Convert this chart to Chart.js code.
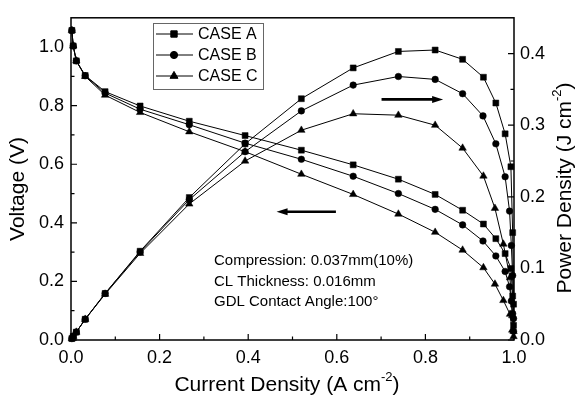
<!DOCTYPE html>
<html>
<head>
<meta charset="utf-8">
<script src="https://cdn.jsdelivr.net/npm/chart.js@4.4.1/dist/chart.umd.min.js"></script>
<style>
html, body { margin: 0; padding: 0; background: #fff; }
canvas { display: block; }
</style>
</head>
<body>
<canvas id="polChart" width="575" height="397"></canvas>
<script>
const caseNames = ['CASE A', 'CASE B', 'CASE C'];
const markerStyles = ['rect', 'circle', 'triangle'];
const markerSizes = [4.2, 3.3, 4.3];

const currentA = [0.002, 0.005, 0.012, 0.032, 0.077, 0.156, 0.267, 0.393, 0.520, 0.637, 0.739, 0.822, 0.884, 0.931, 0.959, 0.980, 0.993, 0.997, 0.999];
const voltageA = [1.057, 1.004, 0.953, 0.903, 0.848, 0.799, 0.747, 0.698, 0.648, 0.598, 0.549, 0.497, 0.443, 0.396, 0.346, 0.295, 0.244, 0.150, 0.050];
const powerA   = [0.002, 0.005, 0.011, 0.029, 0.065, 0.124, 0.199, 0.274, 0.337, 0.380, 0.403, 0.405, 0.392, 0.367, 0.331, 0.288, 0.242, 0.150, 0.050];

const currentB = [0.002, 0.005, 0.012, 0.032, 0.077, 0.156, 0.267, 0.393, 0.520, 0.637, 0.739, 0.822, 0.884, 0.930, 0.959, 0.980, 0.990, 0.994, 0.997, 0.999];
const voltageB = [1.057, 1.004, 0.953, 0.902, 0.843, 0.788, 0.735, 0.672, 0.617, 0.559, 0.500, 0.446, 0.393, 0.338, 0.287, 0.234, 0.182, 0.133, 0.090, 0.030];
const powerB   = [0.002, 0.005, 0.011, 0.029, 0.065, 0.123, 0.196, 0.263, 0.320, 0.356, 0.368, 0.364, 0.344, 0.313, 0.274, 0.228, 0.180, 0.132, 0.090, 0.030];

const currentC = [0.002, 0.005, 0.012, 0.032, 0.077, 0.156, 0.267, 0.393, 0.520, 0.637, 0.739, 0.822, 0.884, 0.931, 0.957, 0.976, 0.991, 0.996, 0.999];
const voltageC = [1.057, 1.004, 0.953, 0.900, 0.836, 0.777, 0.711, 0.643, 0.566, 0.497, 0.430, 0.368, 0.307, 0.247, 0.191, 0.135, 0.088, 0.034, 0.012];
const powerC   = [0.002, 0.005, 0.011, 0.029, 0.064, 0.121, 0.190, 0.250, 0.293, 0.316, 0.314, 0.300, 0.268, 0.229, 0.184, 0.134, 0.087, 0.034, 0.012];

const xTicks = [0, 0.2, 0.4, 0.6, 0.8, 1.0];
const xMinorTicks = [0.1, 0.3, 0.5, 0.7, 0.9];
const voltTicks = [0, 0.2, 0.4, 0.6, 0.8, 1.0];
const voltMinorTicks = [0.1, 0.3, 0.5, 0.7, 0.9];
const powerTicks = [0, 0.1, 0.2, 0.3, 0.4];
const powerMinorTicks = [0.05, 0.15, 0.25, 0.35];

const noteLines = ['Compression: 0.037mm(10%)', 'CL Thickness: 0.016mm', 'GDL Contact Angle:100\u00B0'];

const FONT = 'Arial, "Liberation Sans", sans-serif';

function pairs(xs, ys) {
    return xs.map((x, i) => ({ x: x, y: ys[i] }));
}

const currents = [currentA, currentB, currentC];
const voltages = [voltageA, voltageB, voltageC];
const powers = [powerA, powerB, powerC];

const datasets = [];
caseNames.forEach((name, i) => {
    const common = {
        borderColor: '#000',
        backgroundColor: '#000',
        pointBackgroundColor: '#000',
        pointBorderColor: '#000',
        borderWidth: 1,
        pointBorderWidth: 0.5,
        pointStyle: markerStyles[i],
        pointRadius: markerSizes[i],
        tension: 0,
        clip: false
    };
    datasets.push(Object.assign({ label: name + ' voltage', data: pairs(currents[i], voltages[i]), yAxisID: 'y' }, common));
    datasets.push(Object.assign({ label: name + ' power', data: pairs(currents[i], powers[i]), yAxisID: 'y2' }, common));
});

// text with a raised part, centred on (x, y), optionally rotated
function drawRichText(ctx, parts, x, y, size, angle) {
    ctx.save();
    ctx.translate(x, y);
    ctx.rotate(angle || 0);
    ctx.fillStyle = '#000';
    ctx.textBaseline = 'middle';
    ctx.textAlign = 'left';
    let total = 0;
    parts.forEach(p => {
        ctx.font = (p.sup ? Math.round(size * 0.6) : size) + 'px ' + FONT;
        p.w = ctx.measureText(p.t).width;
        total += p.w;
    });
    let cx = -total / 2;
    parts.forEach(p => {
        ctx.font = (p.sup ? Math.round(size * 0.6) : size) + 'px ' + FONT;
        ctx.fillText(p.t, cx, p.sup ? -size * 0.38 : 0);
        cx += p.w;
    });
    ctx.restore();
}

function drawArrow(ctx, x1, x2, y, headLeft) {
    ctx.save();
    ctx.strokeStyle = '#000';
    ctx.fillStyle = '#000';
    ctx.lineWidth = 2.6;
    const tip = headLeft ? x1 : x2;
    const dir = headLeft ? 1 : -1;
    ctx.beginPath();
    ctx.moveTo(x1 + (headLeft ? 6 : 0), y);
    ctx.lineTo(x2 - (headLeft ? 0 : 6), y);
    ctx.stroke();
    ctx.beginPath();
    ctx.moveTo(tip, y);
    ctx.lineTo(tip + dir * 11, y - 3.5);
    ctx.lineTo(tip + dir * 11, y + 3.5);
    ctx.closePath();
    ctx.fill();
    ctx.restore();
}

const decorations = {
    id: 'decorations',
    afterDatasetsDraw(chart) {
        const { ctx, chartArea: a, scales } = chart;
        const sx = scales.x, sy = scales.y, sp = scales.y2;
        ctx.save();

        // frame and inward ticks
        ctx.strokeStyle = '#000';
        ctx.lineWidth = 1.5;
        ctx.strokeRect(a.left, a.top, a.right - a.left, a.bottom - a.top);
        ctx.lineWidth = 1.2;
        ctx.beginPath();
        const tick = (list, len, fn) => list.forEach(v => fn(v, len));
        tick(xTicks, 6, (v, l) => { const p = sx.getPixelForValue(v); ctx.moveTo(p, a.bottom); ctx.lineTo(p, a.bottom - l); });
        tick(xMinorTicks, 3.5, (v, l) => { const p = sx.getPixelForValue(v); ctx.moveTo(p, a.bottom); ctx.lineTo(p, a.bottom - l); });
        tick(voltTicks, 6, (v, l) => { const p = sy.getPixelForValue(v); ctx.moveTo(a.left, p); ctx.lineTo(a.left + l, p); });
        tick(voltMinorTicks, 3.5, (v, l) => { const p = sy.getPixelForValue(v); ctx.moveTo(a.left, p); ctx.lineTo(a.left + l, p); });
        tick(powerTicks, 6, (v, l) => { const p = sp.getPixelForValue(v); ctx.moveTo(a.right, p); ctx.lineTo(a.right - l, p); });
        tick(powerMinorTicks, 3.5, (v, l) => { const p = sp.getPixelForValue(v); ctx.moveTo(a.right, p); ctx.lineTo(a.right - l, p); });
        ctx.stroke();

        // legend box
        const lx = 153, ly = 23, lw = 110, lh = 66;
        ctx.fillStyle = '#fff';
        ctx.fillRect(lx, ly, lw, lh);
        ctx.strokeStyle = '#666';
        ctx.lineWidth = 1;
        ctx.strokeRect(lx + 0.5, ly + 0.5, lw, lh);
        caseNames.forEach((name, i) => {
            const y = ly + 11 + i * 21;
            ctx.strokeStyle = '#000';
            ctx.lineWidth = 1;
            ctx.beginPath();
            ctx.moveTo(lx + 3, y);
            ctx.lineTo(lx + 40, y);
            ctx.stroke();
            ctx.fillStyle = '#000';
            Chart.helpers.drawPoint(ctx, { pointStyle: markerStyles[i], radius: markerSizes[i] + 0.3, borderWidth: 0.5 }, lx + 21, y);
            ctx.fillStyle = '#000';
            ctx.font = '16px ' + FONT;
            ctx.textBaseline = 'middle';
            ctx.textAlign = 'left';
            ctx.fillText(name, lx + 45, y + 1);
        });

        // arrows telling which curve belongs to which axis
        drawArrow(ctx, sx.getPixelForValue(0.464), sx.getPixelForValue(0.598), sy.getPixelForValue(0.438), true);
        drawArrow(ctx, sx.getPixelForValue(0.701), sx.getPixelForValue(0.840), sp.getPixelForValue(0.336), false);

        // operating conditions note
        ctx.fillStyle = '#000';
        ctx.font = '15px ' + FONT;
        ctx.textBaseline = 'middle';
        ctx.textAlign = 'left';
        noteLines.forEach((t, i) => ctx.fillText(t, 214, 261 + i * 20.5));

        // axis titles
        drawRichText(ctx, [{ t: 'Current Density (A cm' }, { t: '-2', sup: true }, { t: ')' }], 287, 385, 21, 0);
        drawRichText(ctx, [{ t: 'Voltage (V)' }], 18, 189, 21, -Math.PI / 2);
        drawRichText(ctx, [{ t: 'Power Density (J cm' }, { t: '-2', sup: true }, { t: ')' }], 565, 188, 21, -Math.PI / 2);

        ctx.restore();
    }
};

const tickFont = { family: FONT, size: 18 };

new Chart(document.getElementById('polChart').getContext('2d'), {
    type: 'line',
    data: { datasets: datasets },
    options: {
        responsive: false,
        animation: false,
        devicePixelRatio: 1,
        layout: { padding: { top: 11, left: 0, right: 0, bottom: 0 } },
        plugins: { legend: { display: false }, tooltip: { enabled: false } },
        scales: {
            x: {
                type: 'linear',
                min: 0, max: 1.0,
                grid: { display: false, drawTicks: false },
                border: { display: false },
                ticks: { font: tickFont, color: '#000', padding: 7, maxRotation: 0, callback: v => v.toFixed(1) },
                afterBuildTicks: s => { s.ticks = xTicks.map(v => ({ value: v })); },
                afterFit: s => { s.height = 57; }
            },
            y: {
                type: 'linear',
                position: 'left',
                min: 0, max: 1.1,
                grid: { display: false, drawTicks: false },
                border: { display: false },
                ticks: { font: tickFont, color: '#000', padding: 7, callback: v => v.toFixed(1) },
                afterBuildTicks: s => { s.ticks = voltTicks.map(v => ({ value: v })); },
                afterFit: s => { s.width = 71; }
            },
            y2: {
                type: 'linear',
                position: 'right',
                min: 0, max: 0.45,
                grid: { display: false, drawTicks: false },
                border: { display: false },
                ticks: { font: tickFont, color: '#000', padding: 6, callback: v => v.toFixed(1) },
                afterBuildTicks: s => { s.ticks = powerTicks.map(v => ({ value: v })); },
                afterFit: s => { s.width = 61; }
            }
        }
    },
    plugins: [decorations]
});
</script>
</body>
</html>
